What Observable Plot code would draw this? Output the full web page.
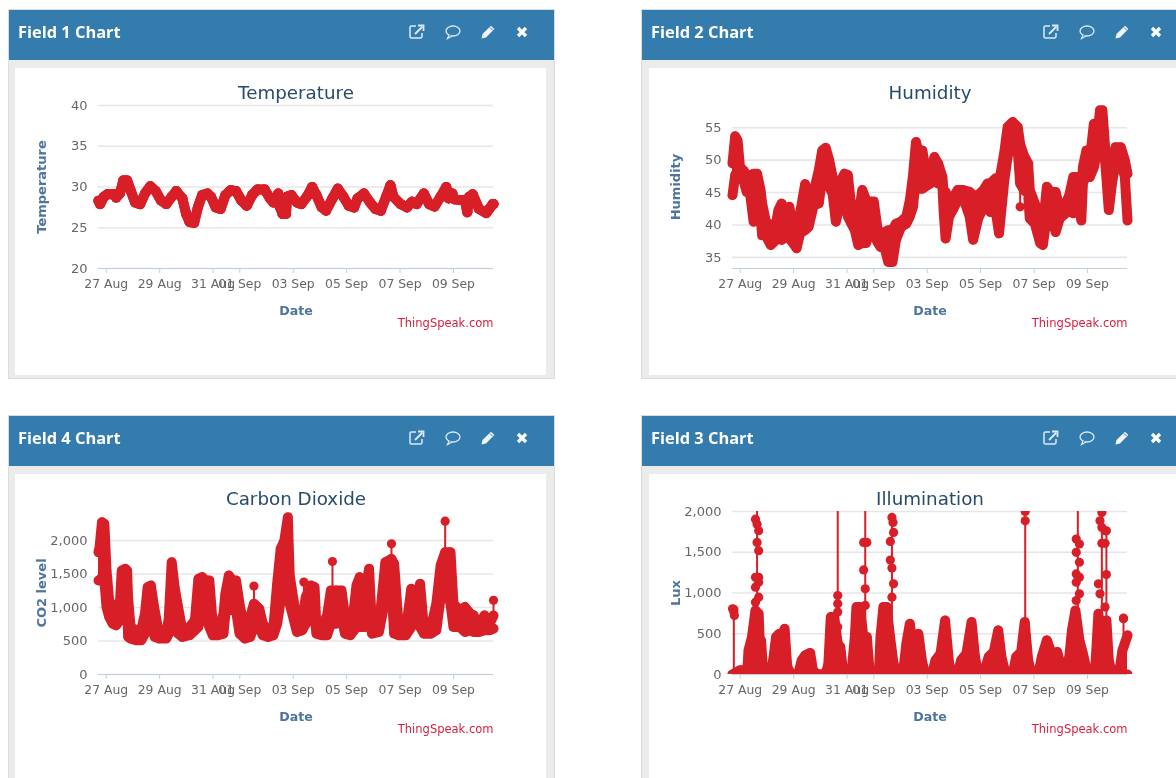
<!DOCTYPE html>
<html>
<head>
<meta charset="utf-8">
<script src="https://cdn.jsdelivr.net/npm/d3@7"></script>
<script src="https://cdn.jsdelivr.net/npm/@observablehq/plot@0.6"></script>
<style>
html,body{margin:0;padding:0;background:#fff}
#page{position:relative;width:1176px;height:778px;overflow:hidden;background:#fff;font-family:"DejaVu Sans",sans-serif;filter:blur(0.45px)}
.panel{position:absolute;background:#ebebeb;border:1px solid #dcdcdc;box-sizing:border-box}
.head{position:absolute;background:#357cae;color:#fff;font-family:"Open Sans",sans-serif;font-weight:bold;font-size:16.4px;height:50px;line-height:43px;box-sizing:border-box;padding-left:9px}
.body{position:absolute;background:#fff}
.icon{position:absolute;width:18px;height:18px}
.chart{position:absolute;width:532px}
.chart svg{display:block;max-width:none !important}
</style>
</head>
<body>
<div id="page"></div>
<script>
// Shared time axis: day offsets from 27 Aug
const tickDays = [0, 2, 4, 5, 7, 9, 11, 13];
const dayDomain = [-0.29, 14.5];

// Temperature: [day, value]
const temperature = [[-0.29,28.3],[-0.23,27.9],[-0.09,28.8],[0.04,29.1],[0.31,29.1],[0.37,28.7],[0.51,29.2],[0.64,30.8],[0.78,30.8],[0.91,29.6],[1.08,28.1],[1.27,27.9],[1.45,29.2],[1.65,30.1],[1.85,29.5],[2.05,28.35],[2.25,27.9],[2.45,28.8],[2.62,29.5],[2.85,28.6],[2.99,26.7],[3.12,25.7],[3.29,25.6],[3.43,27.5],[3.59,29.0],[3.79,29.2],[3.92,28.8],[4.10,27.5],[4.28,27.3],[4.46,29],[4.66,29.6],[4.86,29.5],[5.06,28.35],[5.26,27.7],[5.46,29],[5.66,29.7],[5.93,29.7],[6.13,28.6],[6.26,28.1],[6.44,29.2],[6.51,27.5],[6.60,26.7],[6.73,26.7],[6.77,28.8],[6.93,29],[7.14,28.1],[7.30,27.9],[7.51,28.8],[7.71,30],[7.87,29],[8.07,27.5],[8.23,27.1],[8.47,28.6],[8.67,29.8],[8.88,28.8],[9.08,27.7],[9.28,27.5],[9.41,28.6],[9.65,29.2],[9.88,28.1],[10.08,27.3],[10.28,27.1],[10.48,28.8],[10.64,30.2],[10.75,28.8],[11.02,27.9],[11.26,27.5],[11.45,28.2],[11.62,27.9],[11.89,29.2],[12.09,27.9],[12.29,27.6],[12.52,28.8],[12.73,30],[12.82,28.6],[12.96,29.2],[13.03,28.5],[13.43,28.35],[13.52,26.9],[13.59,28.8],[13.72,29.1],[13.96,27.3],[14.23,26.8],[14.34,27.3],[14.47,27.9],[14.5,27.9]];

// Humidity: [day, high reading, low reading]
const humidity = [[-0.29,49.5,44.6],[-0.19,53.7,47.7],[-0.10,53.05,47.7],[-0.01,48.9,47.7],[0.12,48.4,46.9],[0.24,47.7,45.1],[0.37,46.4,44.8],[0.50,47.9,40.5],[0.63,47.9,42.8],[0.76,45.4,41.3],[0.82,43.3,38.4],[0.95,40.7,38.4],[1.14,39.7,36.9],[1.34,40.2,37.7],[1.43,42.3,38.2],[1.55,43.3,37.7],[1.72,42.0,38.2],[1.84,42.8,37.9],[1.98,39.2,37.2],[2.11,38.9,36.4],[2.24,41.8,38.7],[2.43,46.3,39.2],[2.56,44.6,39.7],[2.75,45.1,43.05],[2.94,48.4,43.3],[3.07,51.5,47.4],[3.20,51.9,46.1],[3.33,50,45.9],[3.46,47.4,44.8],[3.58,45.9,40.5],[3.71,46.4,42.8],[3.90,47.9,44.3],[4.03,47.7,41.3],[4.16,42.5,40.2],[4.29,43.05,39.2],[4.42,41.3,36.9],[4.57,45.4,37.2],[4.71,43.8,37.2],[4.84,43.6,38.7],[5.0,43.6,39.2],[5.13,39.7,37.4],[5.25,37.7,36.6],[5.41,38.9,36.4],[5.54,39.2,34.3],[5.70,39.2,34.3],[5.83,40.2,37.7],[6.02,40.5,39.7],[6.22,41.3,40.2],[6.35,43.8,41.3],[6.47,47.7,42.8],[6.58,52.8,47.7],[6.69,51,45.6],[6.82,51.5,45.6],[6.92,48.9,45.9],[7.12,47.9,46.4],[7.27,50.5,47.2],[7.41,49.5,46.4],[7.57,47.4,46.1],[7.62,44.8,41.8],[7.69,45.1,37.9],[7.82,42.8,41.3],[7.98,44.3,42.5],[8.14,45.4,43.8],[8.34,45.4,44.3],[8.59,45.1,41.3],[8.72,44.6,37.7],[8.91,44.6,41],[9.11,45.4,42.8],[9.26,46.4,44.8],[9.36,46.4,42],[9.56,47.2,42.3],[9.69,46.6,38.7],[9.88,51,46.6],[10.01,55.1,50.5],[10.2,55.9,53.6],[10.39,55.1,51.5],[10.48,52.5,46.4],[10.62,50.7,45.4],[10.78,49.5,44.8],[10.84,45.4,41],[11.03,43.3,40.2],[11.23,41.3,37.2],[11.33,39.7,36.9],[11.48,45.9,41.3],[11.61,45.1,41.8],[11.81,45.1,38.9],[11.96,42.5,41],[12.19,43.3,41.8],[12.32,44.6,42.8],[12.47,47.4,41.8],[12.61,47.4,45.4],[12.77,43.8,40.7],[12.83,48.9,46.4],[12.96,51.5,47.9],[13.09,50,47.4],[13.24,55.6,48.9],[13.37,53.6,51.5],[13.47,57.7,52.5],[13.56,57.7,55.1],[13.67,51.5,49.5],[13.80,50,42.3],[13.92,48.9,46.4],[14.05,52,49.5],[14.25,52,50],[14.40,50,47.4],[14.5,47.9,40.7]];
const humiditySpikes = [[10.48,46.4,42.8]];

// CO2: [day, high reading, low reading]
const co2 = [[-0.29,1826,1404],[-0.25,1900,1404],[-0.16,2273,1454],[-0.07,2248,1404],[0.01,1553,1007],[0.11,1106,858],[0.24,1007,759],[0.37,1032,734],[0.51,1057,809],[0.58,1553,1106],[0.71,1578,1156],[0.78,1553,1082],[0.82,1131,561],[0.91,710,536],[1.11,660,511],[1.31,660,511],[1.45,908,610],[1.55,1305,710],[1.67,1330,858],[1.81,958,561],[1.98,610,536],[2.25,610,536],[2.34,834,610],[2.45,1677,710],[2.56,1305,858],[2.69,1007,610],[2.85,660,561],[3.12,710,586],[3.32,809,660],[3.45,1429,710],[3.59,1454,958],[3.72,1404,908],[3.86,1404,710],[3.99,734,586],[4.19,660,586],[4.39,908,610],[4.46,1206,908],[4.59,1479,1007],[4.73,1404,958],[4.86,1404,958],[4.99,1057,610],[5.19,635,536],[5.39,858,561],[5.53,1057,710],[5.73,983,710],[5.86,759,586],[6.06,660,561],[6.26,710,586],[6.40,1355,759],[6.53,1876,1106],[6.67,2000,1553],[6.80,2347,1553],[6.87,1479,1057],[7.14,784,635],[7.34,809,660],[7.47,1156,759],[7.67,1330,858],[7.80,1305,858],[7.87,710,610],[8.07,710,586],[8.27,883,586],[8.41,1255,759],[8.61,1255,759],[8.81,1255,858],[8.94,858,610],[9.14,710,586],[9.28,1007,660],[9.37,1330,858],[9.49,1454,710],[9.68,1156,710],[9.84,1578,858],[9.95,710,610],[10.21,710,635],[10.45,1677,1131],[10.58,1702,1156],[10.68,1727,1305],[10.78,1652,610],[10.95,710,586],[11.22,660,586],[11.42,1280,710],[11.62,1156,858],[11.75,1355,710],[11.89,710,610],[12.15,685,610],[12.36,1057,660],[12.52,1628,1156],[12.69,1826,1355],[12.89,1826,1057],[13.0,1057,710],[13.23,958,710],[13.43,1007,635],[13.63,908,660],[13.76,883,635],[13.96,710,635],[14.16,883,660],[14.36,759,660],[14.5,880,685]];
const co2Spikes = [[5.53,1057,1320],[7.40,1000,1380],[8.47,1000,1687],[10.68,1727,1950],[12.69,1800,2288],[14.5,880,1107]];

// Illumination: [day, high reading, low reading] in the dense daily humps
const lux = [[-0.29,0,0],[-0.01,53,0],[0.18,53,0],[0.27,73,0],[0.31,297,0],[0.44,460,0],[0.57,786,0],[0.69,745,0],[0.73,379,0],[0.78,420,0],[0.86,0,0],[1.01,0,0],[1.14,0,0],[1.25,216,0],[1.34,460,0],[1.46,501,0],[1.59,501,0],[1.66,562,0],[1.76,94,0],[1.91,0,0],[2.17,0,0],[2.30,175,0],[2.43,236,0],[2.62,265,0],[2.72,53,0],[2.88,0,0],[3.20,0,0],[3.30,134,0],[3.39,705,0],[3.52,705,0],[3.65,379,0],[3.75,338,0],[3.84,53,0],[3.97,0,0],[4.16,0,0],[4.29,460,0],[4.35,827,0],[4.48,827,0],[4.61,460,0],[4.74,460,0],[4.84,53,0],[5.0,0,0],[5.19,0,0],[5.25,460,0],[5.36,827,0],[5.48,827,0],[5.61,460,0],[5.74,134,0],[5.83,53,0],[5.96,0,0],[6.09,0,0],[6.22,379,0],[6.35,623,0],[6.47,297,0],[6.67,501,0],[6.80,175,0],[6.92,0,0],[7.18,0,0],[7.31,175,0],[7.50,257,0],[7.67,664,0],[7.82,134,0],[7.95,0,0],[8.14,0,0],[8.27,175,0],[8.47,257,0],[8.66,644,0],[8.79,216,0],[8.91,0,0],[9.11,0,0],[9.30,216,0],[9.49,277,0],[9.66,542,0],[9.78,216,0],[9.94,0,0],[10.2,0,0],[10.33,216,0],[10.52,277,0],[10.65,644,0],[10.78,175,0],[10.91,0,0],[11.16,0,0],[11.29,216,0],[11.48,420,0],[11.68,236,0],[11.87,277,0],[12.04,53,0],[12.13,0,0],[12.32,216,0],[12.42,542,0],[12.55,786,0],[12.70,420,0],[12.83,257,0],[12.96,73,0],[13.09,0,0],[13.28,0,0],[13.41,745,0],[13.54,338,0],[13.71,664,0],[13.80,175,0],[13.92,0,0],[14.18,0,0],[14.31,297,0],[14.5,481,0]];
const luxSpikes = [[-0.24,0,800],[0.63,0,2000],[3.65,0,2000],[4.68,0,2000],[5.68,0,1950],[10.67,0,2000],[12.64,0,2000],[13.54,0,2000],[13.71,0,1764],[14.35,0,684]];
const luxPoints = [[-0.29,806],[-0.24,766],[-0.22,725],[0.57,1906],[0.63,1845],[0.69,1764],[0.63,1621],[0.69,1519],[0.57,1193],[0.69,1193],[0.57,1071],[0.69,1132],[0.57,888],[0.69,949],[0.57,786],[3.65,969],[3.65,868],[3.65,766],[3.65,582],[4.62,1621],[4.74,1621],[4.62,1283],[4.68,1051],[4.68,847],[5.68,1927],[5.72,1865],[5.74,1743],[5.62,1633],[5.62,1405],[5.68,1307],[5.74,1112],[5.68,949],[10.67,2000],[10.67,1886],[10.67,623],[10.67,542],[10.67,460],[12.58,1662],[12.70,1601],[12.58,1499],[12.70,1377],[12.58,1234],[12.70,1193],[12.58,1132],[12.70,990],[12.58,908],[13.54,1988],[13.47,1886],[13.54,1804],[13.66,1764],[13.54,1609],[13.66,1609],[13.71,1226],[13.41,1112],[13.47,990],[13.66,827],[14.35,692]];

const day = d => new Date(Date.UTC(2016, 7, 27) + d * 864e5);
const RED = "#d81f28";
const page = document.getElementById("page");

function drawChart({title, yLabel, yDomain, yTicks, rows, lineWidth = 10, r = 4.6, spikes = [], points = [], fmt, clip = false}) {
  const X = a => day(a[0]);
  const svg = Plot.plot({
    width: 532, height: 307,
    marginLeft: 83, marginRight: 54, marginTop: 37, marginBottom: 107,
    x: {type: "utc", domain: dayDomain.map(day)},
    y: {domain: yDomain},
    style: {background: "transparent", fontFamily: '"DejaVu Sans",sans-serif', overflow: "visible"},
    marks: [
      Plot.ruleY(yTicks, {stroke: "#e6e6ea", strokeWidth: 1.6}),
      Plot.ruleY([yDomain[0]], {stroke: "#c0d0e0", strokeWidth: 1.2}),
      Plot.axisX(tickDays.map(day), {tickFormat: d3.utcFormat("%d %b"), tickSize: 5, tickPadding: 6, stroke: "#c0d0e0", fill: "#666", fontSize: 12.4, label: null}),
      Plot.axisY(yTicks, {tickFormat: fmt, tickSize: 0, tickPadding: 11, fill: "#666", fontSize: 13, label: null}),
      Plot.ruleX(spikes, {x: X, y1: s => s[1], y2: s => s[2], stroke: RED, strokeWidth: 2, clip}),
      Plot.areaY(rows, {x: X, y1: a => a[2], y2: a => a[1], fill: RED, clip}),
      Plot.line(rows, {x: X, y: a => a[1], stroke: RED, strokeWidth: lineWidth, strokeLinecap: "round", strokeLinejoin: "round", clip}),
      Plot.line(rows, {x: X, y: a => a[2], stroke: RED, strokeWidth: lineWidth, strokeLinecap: "round", strokeLinejoin: "round", clip}),
      Plot.dot(rows, {x: X, y: a => a[1], r, fill: RED, clip}),
      Plot.dot(rows, {x: X, y: a => a[2], r, fill: RED, clip}),
      Plot.dot(spikes.filter(s => s[1] !== 0 || s[2] < 1900), {x: X, y: s => s[2], r, fill: RED, clip}),
      Plot.dot(points, {x: X, y: p => p[1], r, fill: RED, clip}),
      Plot.text([title], {frameAnchor: "top", dy: -12, lineAnchor: "middle", fontSize: 18.3, fill: "#274b6d"}),
      Plot.text([yLabel], {frameAnchor: "left", rotate: -90, dx: -57, textAnchor: "middle", fontSize: 13, fontWeight: "bold", fill: "#4d759e"}),
      Plot.text(["Date"], {frameAnchor: "bottom", dy: 42, lineAnchor: "middle", fontSize: 12.6, fontWeight: "bold", fill: "#4d759e"}),
      Plot.text(["ThingSpeak.com"], {frameAnchor: "bottom-right", dy: 55, lineAnchor: "middle", textAnchor: "end", fontSize: 11.5, fill: "#d81e3c"})
    ]
  });
  // The clip only trims top and bottom; dots may run past the left and right frame edges.
  svg.querySelectorAll("clipPath rect").forEach(rect => {
    rect.setAttribute("x", +rect.getAttribute("x") - 8);
    rect.setAttribute("width", +rect.getAttribute("width") + 16);
  });
  return svg;
}

const icons = {
  link: '<path d="M8 3H3.5A1.5 1.5 0 0 0 2 4.5v9A1.5 1.5 0 0 0 3.5 15h9a1.5 1.5 0 0 0 1.5-1.5V10" fill="none" stroke="#dce9f3" stroke-width="1.5"/><path d="M7 11 14 4M10 2.5h5.5V8" fill="none" stroke="#dce9f3" stroke-width="1.8"/>',
  talk: '<ellipse cx="9" cy="8" rx="7" ry="5" fill="none" stroke="#dce9f3" stroke-width="1.3"/><path d="M5 12 3.5 15.5 8 13" fill="#357cae" stroke="#dce9f3" stroke-width="1.2"/>',
  pen: '<path d="M2.5 15.5 3.5 11 12 2.7l3.3 3.3L7 14.5z" fill="#eef4f9"/><path d="M11 4.5l2.5 2.5" stroke="#357cae" stroke-width="1"/>',
  close: '<path d="M5 5 13 13M13 5 5 13" stroke="#fff" stroke-width="3.2"/>'
};
function panel(name, left, top, bottom, plot) {
  const add = (cls, css, html = "") => {
    const e = document.createElement("div");
    e.className = cls; e.style.cssText = css; e.innerHTML = html;
    page.appendChild(e); return e;
  };
  const outer = Math.floor(left), inner = Math.ceil(left);
  add("panel", `left:${outer + 8}px;top:${top + 9}px;width:547px;height:${bottom - top - 9}px`);
  add("head", `left:${outer + 9}px;top:${top + 10}px;width:545px`, name);
  add("body", `left:${inner + 15}px;top:${top + 68}px;width:531px;height:${bottom - top - 72}px`);
  const c = add("chart", `left:${left + 15}px;top:${top + 68}px`);
  c.appendChild(plot);
  [["link", 408], ["talk", 444], ["pen", 479], ["close", 513]].forEach(([k, x]) => {
    add("icon", `left:${inner + x}px;top:${top + 23}px`, `<svg width="18" height="18" viewBox="0 0 18 18">${icons[k]}</svg>`);
  });
}

const fmtComma = d3.format(",");
const single = temperature.map(t => [t[0], t[1], t[1]]);
panel("Field 1 Chart", 0, 0, 379, drawChart({title: "Temperature", yLabel: "Temperature", yDomain: [20, 40], yTicks: [20, 25, 30, 35, 40], rows: single, lineWidth: 10, r: 5, fmt: d3.format("d")}));
panel("Field 2 Chart", 633.5, 0, 379, drawChart({title: "Humidity", yLabel: "Humidity", yDomain: [33.28, 58.43], yTicks: [35, 40, 45, 50, 55], rows: humidity, spikes: humiditySpikes, fmt: d3.format("d")}));
panel("Field 4 Chart", 0, 406, 790, drawChart({title: "Carbon Dioxide", yLabel: "CO2 level", yDomain: [0, 2433], yTicks: [0, 500, 1000, 1500, 2000], rows: co2, spikes: co2Spikes, fmt: fmtComma}));
panel("Field 3 Chart", 633.5, 406, 790, drawChart({title: "Illumination", yLabel: "Lux", yDomain: [0, 2000], yTicks: [0, 500, 1000, 1500, 2000], rows: lux, spikes: luxSpikes, points: luxPoints, fmt: fmtComma, clip: true}));
</script>
</body>
</html>
